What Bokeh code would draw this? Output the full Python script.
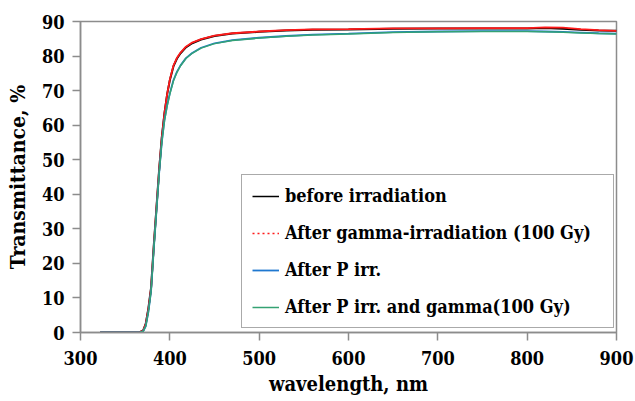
from bokeh.plotting import figure
from bokeh.models import Legend, LegendItem, ColumnDataSource, FixedTicker
from bokeh.embed import file_html
from bokeh.resources import INLINE

# wavelength, nm
wavelength = [322, 340, 360, 366, 370, 373, 376, 379, 382, 385, 388, 391, 394, 397,
              400, 404, 408, 412, 418, 425, 435, 450, 470, 500, 530, 560, 600, 650,
              700, 750, 800, 820, 840, 860, 880, 900]

before_irr = [0.0, 0.0, 0.0, 0.1, 0.5, 2.5, 7.0, 13.0, 25.0, 36.0, 47.0, 56.5, 63.5, 69.0,
              73.0, 77.0, 79.3, 80.8, 82.5, 83.7, 84.8, 85.8, 86.5, 87.0, 87.4, 87.6, 87.7, 87.9,
              88.0, 88.0, 88.0, 88.1, 87.9, 87.6, 87.4, 87.3]

after_gamma = [0.0, 0.0, 0.0, 0.1, 0.5, 2.4, 6.8, 12.8, 24.8, 36.0, 47.0, 56.5, 63.5, 69.0,
               73.2, 77.2, 79.5, 81.0, 82.7, 83.9, 84.9, 85.9, 86.6, 87.1, 87.5, 87.7, 87.8, 88.0,
               88.0, 88.1, 88.1, 88.3, 88.2, 87.8, 87.5, 87.3]

after_p = [0.0, 0.0, 0.0, 0.0, 0.3, 1.8, 6.0, 12.0, 24.0, 35.0, 46.0, 55.0, 61.5, 65.8,
           69.2, 73.0, 75.5, 77.3, 79.4, 80.9, 82.4, 83.7, 84.6, 85.3, 85.8, 86.2, 86.5, 86.9,
           87.1, 87.2, 87.2, 87.1, 87.0, 86.8, 86.6, 86.5]

after_p_gamma = [0.0, 0.0, 0.0, 0.0, 0.3, 1.8, 6.0, 12.0, 24.0, 35.0, 46.0, 55.0, 61.3, 65.5,
                 69.0, 72.8, 75.3, 77.2, 79.3, 80.8, 82.3, 83.6, 84.5, 85.2, 85.7, 86.1, 86.4, 86.8,
                 87.0, 87.1, 87.1, 87.0, 86.9, 86.7, 86.5, 86.4]

labels = ["before irradiation", "After gamma-irradiation (100 Gy)",
          "After P irr.", "After P irr. and gamma(100 Gy)"]
x_ticks = [300, 400, 500, 600, 700, 800, 900]
y_ticks = [0, 10, 20, 30, 40, 50, 60, 70, 80, 90]

FONT = "DejaVu Serif Condensed"
AXIS_GRAY = "#8c8c8c"

p = figure(width=635, height=401, output_backend="svg", toolbar_location=None,
           x_range=(300, 900), y_range=(0, 90),
           min_border_left=80, min_border_right=19, min_border_top=21, min_border_bottom=69)
p.xgrid.visible = False
p.ygrid.visible = False
p.outline_line_color = AXIS_GRAY
p.outline_line_width = 1.5
p.background_fill_color = "white"
p.border_fill_color = "white"

src = ColumnDataSource(dict(x=wavelength, b=before_irr, g=after_gamma, p=after_p, pg=after_p_gamma))

r_black = p.line("x", "b", source=src, color="black", line_width=2.0)
r_red = p.line("x", "g", source=src, color="#ff1a1a", line_width=1.8)
r_blue = p.line("x", "p", source=src, color="#1f78d0", line_width=1.8)
r_green = p.line("x", "pg", source=src, color="#34a273", line_width=1.5)

# single-point proxies (draw nothing in the plot) that set the legend line styles
proxy_b = ColumnDataSource(dict(x=wavelength[:1], y=before_irr[:1]))
proxy_g = ColumnDataSource(dict(x=wavelength[:1], y=after_gamma[:1]))
r_black_leg = p.line("x", "y", source=proxy_b, color="black", line_width=1.5)
r_red_leg = p.line("x", "y", source=proxy_g, color="#ff1a1a", line_width=1.5, line_dash="2 3")

for ax in (p.xaxis[0], p.yaxis[0]):
    ax.axis_line_color = AXIS_GRAY
    ax.axis_line_width = 1.5
    ax.major_tick_line_color = AXIS_GRAY
    ax.major_tick_line_width = 1.5
    ax.major_tick_in = 0
    ax.major_tick_out = 8
    ax.minor_tick_line_color = None
    ax.major_label_text_font = FONT
    ax.major_label_text_font_style = "bold"
    ax.major_label_text_font_size = "18px"
    ax.major_label_text_color = "black"
    ax.axis_label_text_font = FONT
    ax.axis_label_text_font_style = "bold"
    ax.axis_label_text_color = "black"
p.xaxis.axis_label_text_font_size = "20px"
p.yaxis.axis_label_text_font_size = "21px"

p.xaxis.ticker = FixedTicker(ticks=x_ticks)
p.yaxis.ticker = FixedTicker(ticks=y_ticks)
p.xaxis.axis_label = "wavelength, nm"
p.yaxis.axis_label = "Transmittance, %"
p.xaxis.major_label_standoff = 10
p.yaxis.major_label_standoff = 8
p.xaxis.axis_label_standoff = 4
p.yaxis.axis_label_standoff = 9

legend = Legend(items=[
    LegendItem(label=labels[0], renderers=[r_black_leg]),
    LegendItem(label=labels[1], renderers=[r_red_leg]),
    LegendItem(label=labels[2], renderers=[r_blue]),
    LegendItem(label=labels[3], renderers=[r_green]),
], location=(161, 4))
legend.label_text_font = FONT
legend.label_text_font_style = "bold"
legend.label_text_font_size = "18px"
legend.label_text_color = "black"
legend.glyph_width = 27
legend.glyph_height = 20
legend.label_height = 20
legend.label_width = 318
legend.label_standoff = 6
legend.spacing = 16
legend.padding = 10
legend.margin = 0
legend.border_line_color = "#555555"
legend.border_line_width = 1.5
legend.background_fill_alpha = 1
p.add_layout(legend, "center")

open("out.html", "w").write(file_html(p, INLINE))
